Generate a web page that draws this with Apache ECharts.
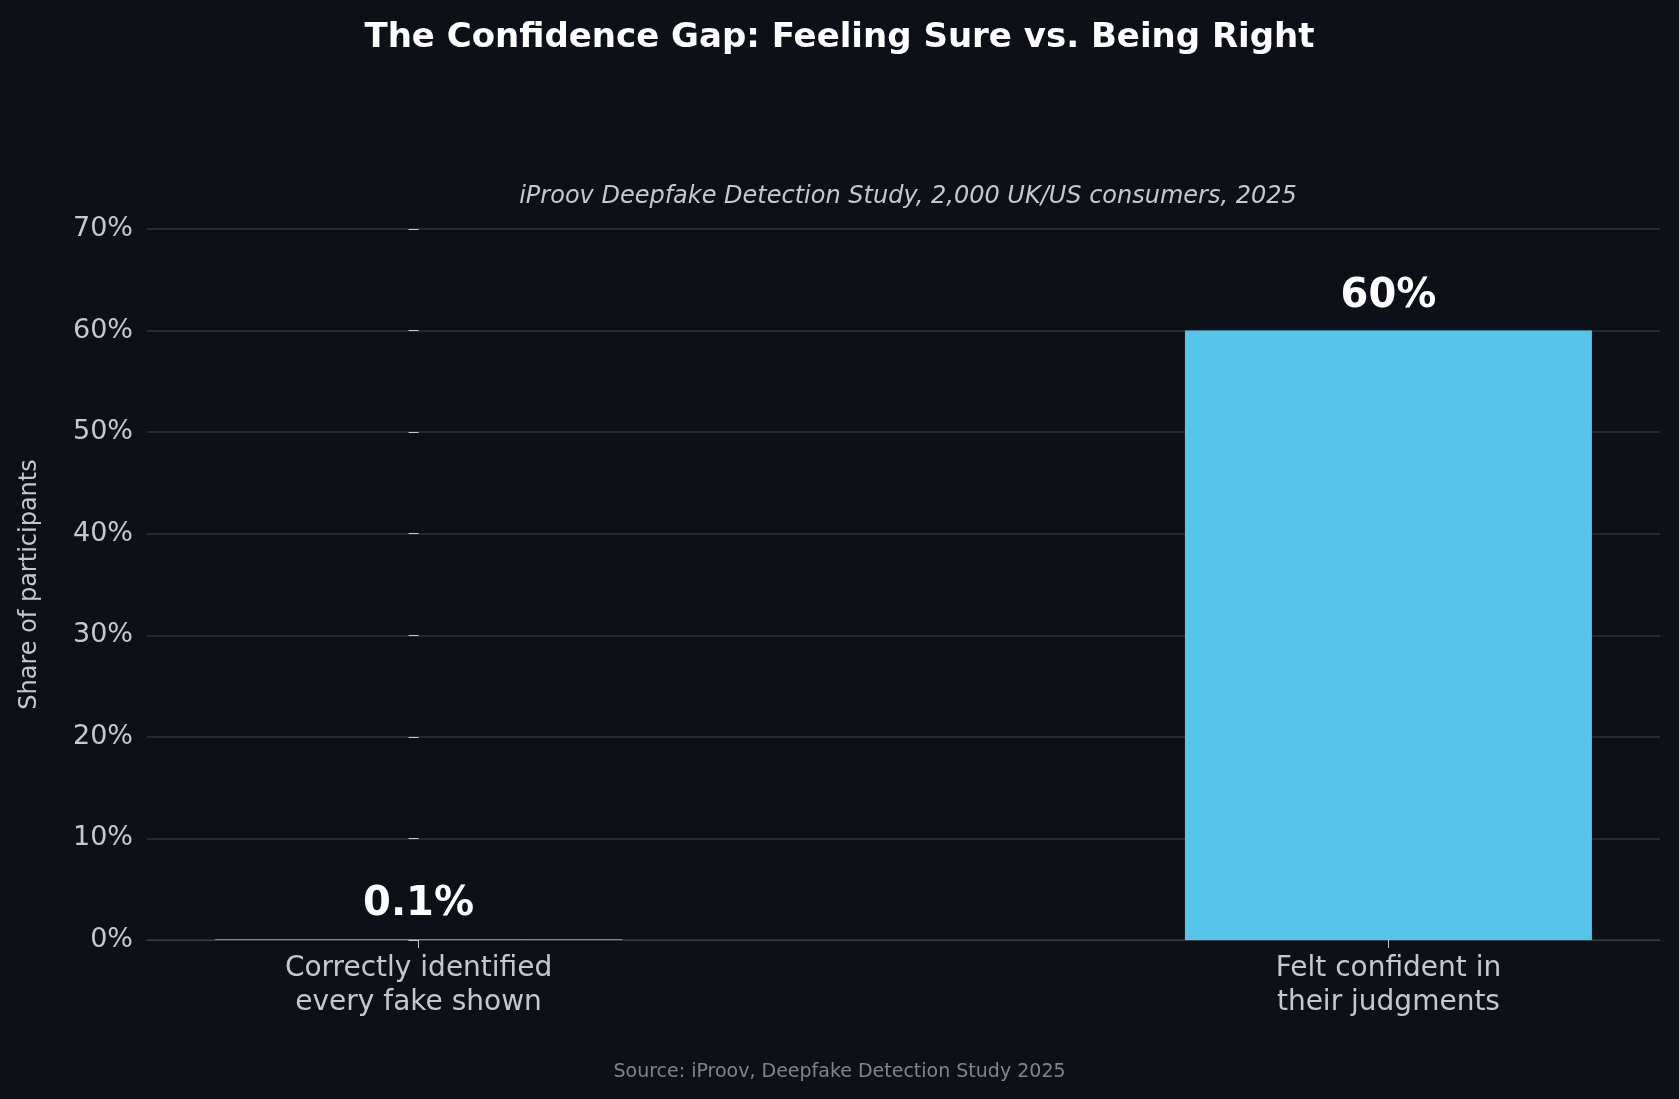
<!DOCTYPE html>
<html><head><meta charset="utf-8">
<script src="https://cdn.jsdelivr.net/npm/echarts@6/dist/echarts.min.js"></script>
<style>html,body{margin:0;padding:0;background:#0d1017}#c{width:1679px;height:1099px}</style>
</head><body><div id="c"></div>
<script>
const categories = ['Correctly identified\nevery fake shown', 'Felt confident in\ntheir judgments'];
const values = [0.1, 60];
const valueLabels = ['0.1%', '60%'];
const barColors = ['#e0604f', '#56c5eb'];
const yTicks = [0, 10, 20, 30, 40, 50, 60, 70];

const chart = echarts.init(document.getElementById('c'));
const txt = '#c5c8ce';
chart.setOption({
  backgroundColor: '#0d1017',
  title: [
    {text: 'The Confidence Gap: Feeling Sure vs. Being Right', left: 'center', top: 16,
     textStyle: {color: '#ffffff', fontSize: 34, fontWeight: 'bold', fontFamily: 'DejaVu Sans'}},
    {text: 'iProov Deepfake Detection Study, 2,000 UK/US consumers, 2025', left: 903, textAlign: 'center', top: 180,
     textStyle: {color: txt, fontSize: 24, fontStyle: 'italic', fontWeight: 'normal', fontFamily: 'DejaVu Sans'}},
    {text: 'Source: iProov, Deepfake Detection Study 2025', left: 'center', top: 1058,
     textStyle: {color: '#80848b', fontSize: 19, fontWeight: 'normal', fontFamily: 'DejaVu Sans'}}
  ],
  grid: {left: 147, right: 19, top: 229, bottom: 159},
  xAxis: {
    type: 'value', min: -0.28, max: 1.28,
    splitLine: {show: false},
    axisLine: {show: true, lineStyle: {color: '#3a3e45'}},
    axisTick: {show: true, customValues: [0, 1], length: 8, lineStyle: {color: txt}},
    axisLabel: {customValues: [0, 1], formatter: v => categories[Math.round(v)], color: txt,
      fontSize: 28, fontFamily: 'DejaVu Sans', lineHeight: 34, margin: 12}
  },
  yAxis: {
    type: 'value', min: 0, max: 70, interval: 10,
    name: 'Share of participants', nameLocation: 'middle', nameGap: 105,
    nameTextStyle: {color: txt, fontSize: 24, fontFamily: 'DejaVu Sans'},
    axisLine: {show: false},
    axisTick: {show: true, length: 10, lineStyle: {color: txt}},
    axisLabel: {formatter: v => v + '%', color: txt, fontSize: 27, fontFamily: 'DejaVu Sans', margin: 14},
    splitLine: {lineStyle: {color: '#2f333a', width: 1.5}}
  },
  series: [{
    type: 'bar', barWidth: 407,
    data: values.map((v, i) => ({value: [i, v], itemStyle: {color: barColors[i]},
      label: {formatter: valueLabels[i]}})),
    label: {show: true, position: 'top', distance: 14, color: '#ffffff', fontSize: 40,
      fontWeight: 'bold', fontFamily: 'DejaVu Sans'}
  }]
});
</script></body></html>
